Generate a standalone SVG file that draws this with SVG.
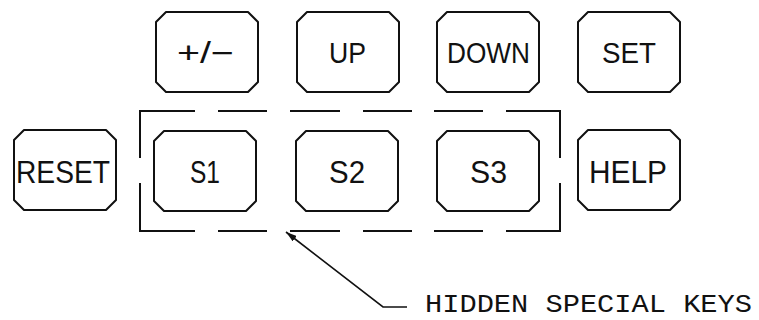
<svg xmlns="http://www.w3.org/2000/svg" width="759" height="320" viewBox="0 0 759 320">
  <style>
    .key { fill: none; stroke: #111; stroke-width: 2; stroke-linejoin: round; }
    .lbl { font-family: "Liberation Sans", Arial, sans-serif; fill: #111; text-anchor: start; }
    .top { font-size: 29px; }
    .bot { font-size: 31px; }
    .frame { fill: none; stroke: #111; stroke-width: 2; }
    .lead { fill: none; stroke: #111; stroke-width: 1.6; }
    .note { font-family: "Liberation Mono", "Courier New", monospace; font-size: 26px; fill: #111; }
  </style>
  <defs>
    <!-- chamfered keycap outline, 102 x 80 -->
    <path id="cap" d="M10,0 H92 L102,10 V70 L92,80 H10 L0,70 V10 Z"/>
    <marker id="head" viewBox="0 0 10 6" refX="10" refY="3" markerWidth="11" markerHeight="7" markerUnits="userSpaceOnUse" orient="auto">
      <path d="M0,0 L10,3 L0,6 Z" fill="#111"/>
    </marker>
  </defs>

  <!-- top row -->
  <g id="key-plusminus">
    <use href="#cap" class="key" x="156" y="12"/>
    <text class="lbl top" x="177" y="63" textLength="57" lengthAdjust="spacingAndGlyphs">+/−</text>
  </g>
  <g id="key-up">
    <use href="#cap" class="key" x="297" y="12"/>
    <text class="lbl top" x="329" y="63" textLength="37" lengthAdjust="spacingAndGlyphs">UP</text>
  </g>
  <g id="key-down">
    <use href="#cap" class="key" x="437" y="12"/>
    <text class="lbl top" x="447" y="63" textLength="83" lengthAdjust="spacingAndGlyphs">DOWN</text>
  </g>
  <g id="key-set">
    <use href="#cap" class="key" x="578" y="12"/>
    <text class="lbl top" x="602" y="63" textLength="54" lengthAdjust="spacingAndGlyphs">SET</text>
  </g>

  <!-- bottom row -->
  <g id="key-reset">
    <use href="#cap" class="key" x="14" y="130"/>
    <text class="lbl bot" x="16" y="183" textLength="94" lengthAdjust="spacingAndGlyphs">RESET</text>
  </g>
  <g id="key-s1">
    <use href="#cap" class="key" x="154" y="131"/>
    <text class="lbl bot" x="190" y="183" textLength="30" lengthAdjust="spacingAndGlyphs">S1</text>
  </g>
  <g id="key-s2">
    <use href="#cap" class="key" x="296" y="131"/>
    <text class="lbl bot" x="329" y="183" textLength="36" lengthAdjust="spacingAndGlyphs">S2</text>
  </g>
  <g id="key-s3">
    <use href="#cap" class="key" x="437" y="131"/>
    <text class="lbl bot" x="470" y="183" textLength="37" lengthAdjust="spacingAndGlyphs">S3</text>
  </g>
  <g id="key-help">
    <use href="#cap" class="key" x="578" y="130"/>
    <text class="lbl bot" x="589" y="183" textLength="78" lengthAdjust="spacingAndGlyphs">HELP</text>
  </g>

  <!-- dashed enclosure around the hidden keys -->
  <g id="hidden-group">
    <path class="frame" d="M140,158 V111 H195 M218,111 H267 M290,111 H340 M363,111 H412 M434,111 H483 M506,111 H560 V158"/>
    <path class="frame" d="M140,183 V231 H195 M218,231 H267 M290,231 H340 M363,231 H412 M434,231 H483 M506,231 H560 V183"/>
  </g>

  <!-- leader and callout -->
  <g id="connectors">
    <path class="lead" d="M407,307 H383 L286,232" marker-end="url(#head)"/>
  </g>
  <g id="callout">
    <text class="note" x="425" y="312" textLength="327" lengthAdjust="spacingAndGlyphs">HIDDEN SPECIAL KEYS</text>
  </g>
</svg>
